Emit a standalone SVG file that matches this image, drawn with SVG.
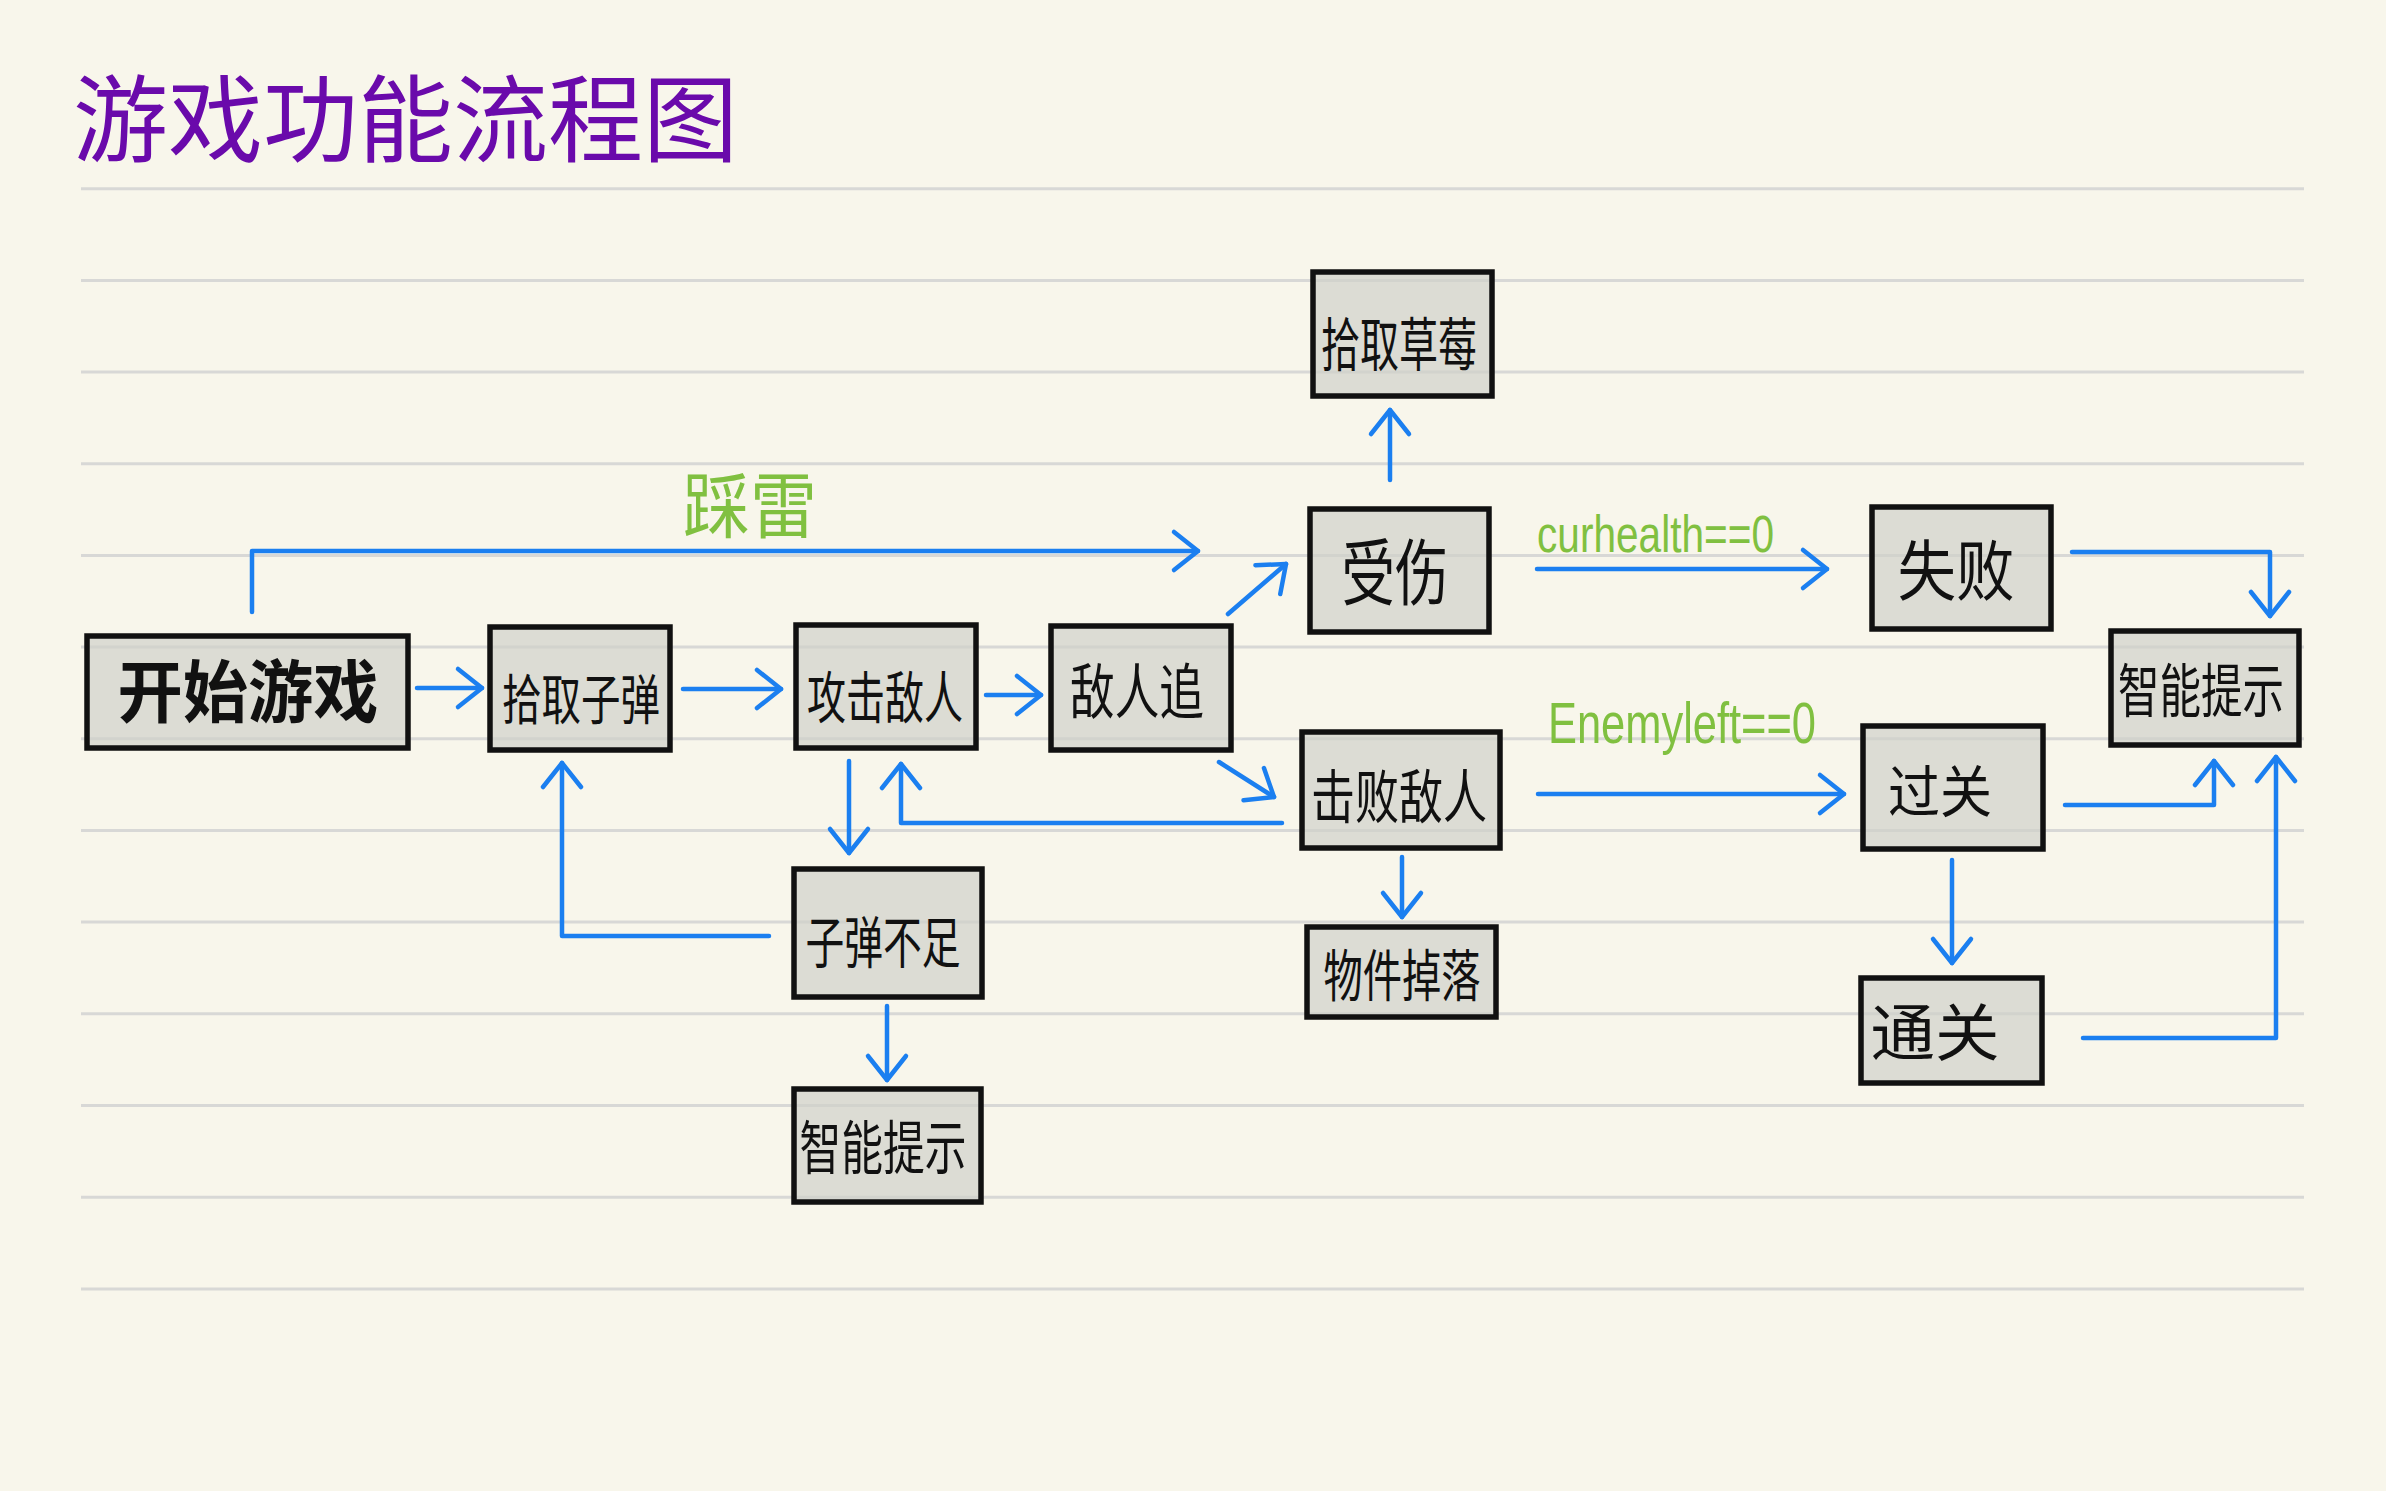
<svg xmlns="http://www.w3.org/2000/svg" width="2386" height="1491" viewBox="0 0 2386 1491">
<defs>
<style>
.rule{stroke:#d8d8d6;stroke-width:3}
.box{fill:#cfd0c8;fill-opacity:0.68;stroke:#111;stroke-width:5.5}
.lbl{font-family:"Noto Sans CJK SC","Noto Sans",sans-serif;fill:#111;text-anchor:middle}
.green{font-family:"Liberation Sans","Noto Sans CJK SC",sans-serif;fill:#80c040}
.cn{fill:none;stroke:#1b7ff0;stroke-width:4.5;stroke-linecap:round;stroke-linejoin:round}
</style>
<marker id="ah" markerUnits="userSpaceOnUse" markerWidth="60" markerHeight="60" refX="0" refY="0" viewBox="-30 -30 60 60" orient="auto" overflow="visible">
<path d="M-24,-19 L0,0 L-24,19" fill="none" stroke="#1b7ff0" stroke-width="4.5" stroke-linecap="round" stroke-linejoin="round"/>
</marker>
</defs>
<rect width="2386" height="1491" fill="#f8f6eb"/>
<g id="rules">
<line class="rule" x1="81" y1="188.7" x2="2304" y2="188.7"/>
<line class="rule" x1="81" y1="280.4" x2="2304" y2="280.4"/>
<line class="rule" x1="81" y1="372.1" x2="2304" y2="372.1"/>
<line class="rule" x1="81" y1="463.7" x2="2304" y2="463.7"/>
<line class="rule" x1="81" y1="555.4" x2="2304" y2="555.4"/>
<line class="rule" x1="81" y1="647.1" x2="2304" y2="647.1"/>
<line class="rule" x1="81" y1="738.8" x2="2304" y2="738.8"/>
<line class="rule" x1="81" y1="830.5" x2="2304" y2="830.5"/>
<line class="rule" x1="81" y1="922.1" x2="2304" y2="922.1"/>
<line class="rule" x1="81" y1="1013.8" x2="2304" y2="1013.8"/>
<line class="rule" x1="81" y1="1105.5" x2="2304" y2="1105.5"/>
<line class="rule" x1="81" y1="1197.2" x2="2304" y2="1197.2"/>
<line class="rule" x1="81" y1="1288.9" x2="2304" y2="1288.9"/>
</g>
<text id="title" x="73" y="155" font-family="Noto Sans CJK SC, sans-serif" font-size="95" fill="#6a0aab">游戏功能流程图</text>

<g id="connectors">
<path class="cn" d="M252,612 L252,551 L1198,551" marker-end="url(#ah)"/>
<path class="cn" d="M417,688 L482,688" marker-end="url(#ah)"/>
<path class="cn" d="M683,689 L781,689" marker-end="url(#ah)"/>
<path class="cn" d="M986,695 L1041,695" marker-end="url(#ah)"/>
<path class="cn" d="M1228,614 L1286,564" marker-end="url(#ah)"/>
<path class="cn" d="M1219,762 L1274,797" marker-end="url(#ah)"/>
<path class="cn" d="M1390,480 L1390,410" marker-end="url(#ah)"/>
<path class="cn" d="M1537,569 L1827,569" marker-end="url(#ah)"/>
<path class="cn" d="M2072,552 L2270,552 L2270,616" marker-end="url(#ah)"/>
<path class="cn" d="M1538,794 L1844,794" marker-end="url(#ah)"/>
<path class="cn" d="M2065,805 L2214,805 L2214,761" marker-end="url(#ah)"/>
<path class="cn" d="M2083,1038 L2276,1038 L2276,757" marker-end="url(#ah)"/>
<path class="cn" d="M1952,860 L1952,963" marker-end="url(#ah)"/>
<path class="cn" d="M1402,857 L1402,917" marker-end="url(#ah)"/>
<path class="cn" d="M1282,823 L901,823 L901,764" marker-end="url(#ah)"/>
<path class="cn" d="M849,761 L849,853" marker-end="url(#ah)"/>
<path class="cn" d="M769,936 L562,936 L562,763" marker-end="url(#ah)"/>
<path class="cn" d="M887,1006 L887,1080" marker-end="url(#ah)"/>
</g>
<g id="edge-labels">
<text class="green" x="683" y="532" font-family="Noto Sans CJK SC, sans-serif" font-size="72" textLength="134" lengthAdjust="spacingAndGlyphs">踩雷</text>
<text class="green" x="1537" y="552" font-size="52" textLength="237" lengthAdjust="spacingAndGlyphs">curhealth==0</text>
<text class="green" x="1548" y="743" font-size="58" textLength="268" lengthAdjust="spacingAndGlyphs">Enemyleft==0</text>
</g>

<g id="n-start"><rect class="box" x="87" y="636" width="321" height="112"/><text class="lbl" x="248" y="717" font-size="68" font-weight="bold" textLength="261" lengthAdjust="spacingAndGlyphs">开始游戏</text></g>
<g id="n-pickammo"><rect class="box" x="490" y="627" width="180" height="123"/><text class="lbl" x="581" y="720" font-size="54" textLength="158" lengthAdjust="spacingAndGlyphs">拾取子弹</text></g>
<g id="n-attack"><rect class="box" x="796" y="625" width="180" height="123"/><text class="lbl" x="885" y="718" font-size="56" textLength="156" lengthAdjust="spacingAndGlyphs">攻击敌人</text></g>
<g id="n-chase"><rect class="box" x="1051" y="626" width="180" height="124"/><text class="lbl" x="1137" y="714" font-size="60" textLength="134" lengthAdjust="spacingAndGlyphs">敌人追</text></g>
<g id="n-hurt"><rect class="box" x="1310" y="509" width="179" height="123"/><text class="lbl" x="1395" y="599" font-size="72" textLength="107" lengthAdjust="spacingAndGlyphs">受伤</text></g>
<g id="n-berry"><rect class="box" x="1313" y="272" width="179" height="124"/><text class="lbl" x="1399" y="366" font-size="58" textLength="156" lengthAdjust="spacingAndGlyphs">拾取草莓</text></g>
<g id="n-fail"><rect class="box" x="1872" y="507" width="179" height="122"/><text class="lbl" x="1956" y="595" font-size="66" textLength="117" lengthAdjust="spacingAndGlyphs">失败</text></g>
<g id="n-hint-r"><rect class="box" x="2111" y="631" width="188" height="114"/><text class="lbl" x="2201" y="712" font-size="58" textLength="166" lengthAdjust="spacingAndGlyphs">智能提示</text></g>
<g id="n-defeat"><rect class="box" x="1302" y="732" width="198" height="116"/><text class="lbl" x="1399" y="818" font-size="58" textLength="176" lengthAdjust="spacingAndGlyphs">击败敌人</text></g>
<g id="n-drop"><rect class="box" x="1307" y="927" width="189" height="90"/><text class="lbl" x="1402" y="996" font-size="56" textLength="157" lengthAdjust="spacingAndGlyphs">物件掉落</text></g>
<g id="n-pass"><rect class="box" x="1863" y="726" width="180" height="123"/><text class="lbl" x="1940" y="812" font-size="56" textLength="104" lengthAdjust="spacingAndGlyphs">过关</text></g>
<g id="n-clear"><rect class="box" x="1861" y="978" width="181" height="105"/><text class="lbl" x="1935" y="1056" font-size="62" textLength="129" lengthAdjust="spacingAndGlyphs">通关</text></g>
<g id="n-noammo"><rect class="box" x="794" y="869" width="188" height="128"/><text class="lbl" x="883" y="963" font-size="56" textLength="155" lengthAdjust="spacingAndGlyphs">子弹不足</text></g>
<g id="n-hint-b"><rect class="box" x="794" y="1089" width="187" height="113"/><text class="lbl" x="883" y="1169" font-size="58" textLength="167" lengthAdjust="spacingAndGlyphs">智能提示</text></g>
</svg>
